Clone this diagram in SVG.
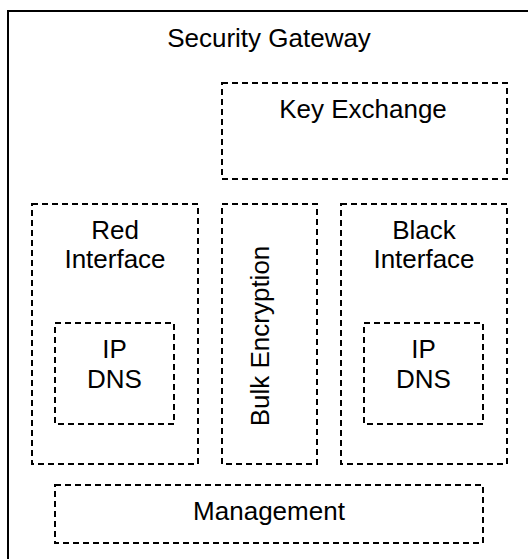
<svg xmlns="http://www.w3.org/2000/svg" width="528" height="559" viewBox="0 0 528 559">
<style>
.box{fill:none;stroke:#000;stroke-width:2;stroke-dasharray:6 4}
.outer{fill:#fff;stroke:#000;stroke-width:2}
text{font-family:"Liberation Sans",Arial,sans-serif;font-size:26px;fill:#000;text-anchor:middle}
</style>
<rect width="528" height="559" fill="#fff"/>
<g id="security-gateway">
<rect class="outer" x="8" y="11" width="540" height="570"/>
<text x="269" y="47">Security Gateway</text>
</g>
<g id="key-exchange">
<rect class="box" x="222" y="83" width="285" height="96"/>
<text x="363" y="118">Key Exchange</text>
</g>
<g id="red-interface">
<rect class="box" x="32" y="204" width="166" height="260"/>
<text x="115" y="239">Red</text>
<text x="115" y="268">Interface</text>
</g>
<g id="red-ipdns">
<rect class="box" x="55" y="323" width="119" height="101"/>
<text x="114.5" y="358">IP</text>
<text x="114.5" y="388">DNS</text>
</g>
<g id="bulk-encryption">
<rect class="box" x="222" y="204" width="95" height="260"/>
<text transform="translate(269 336) rotate(-90)">Bulk Encryption</text>
</g>
<g id="black-interface">
<rect class="box" x="341" y="204" width="166" height="260"/>
<text x="424" y="239">Black</text>
<text x="424" y="268">Interface</text>
</g>
<g id="black-ipdns">
<rect class="box" x="364" y="323" width="119" height="101"/>
<text x="423.5" y="358">IP</text>
<text x="423.5" y="388">DNS</text>
</g>
<g id="management">
<rect class="box" x="55" y="485" width="428" height="58"/>
<text x="269" y="520">Management</text>
</g>
<g id="connectors"></g>
</svg>
